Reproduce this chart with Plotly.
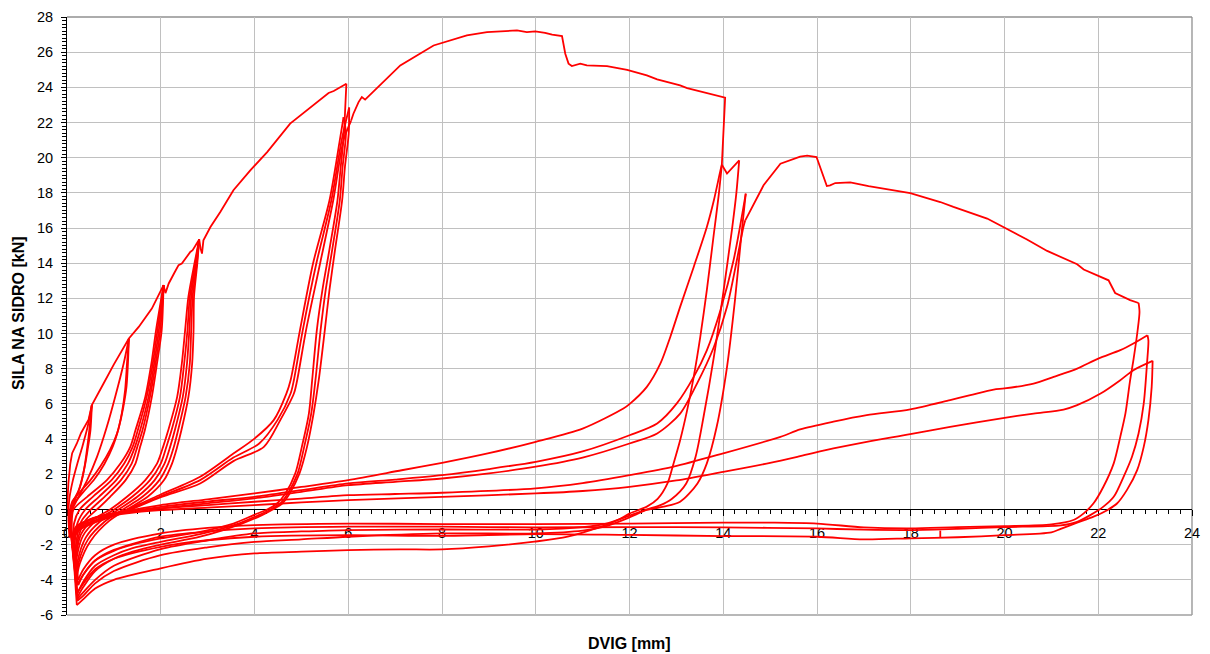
import plotly.graph_objects as go

# ---------------- data (x = DVIG [mm], y = SILA [kN]) -------------
# backbone (envelope) segments
ENV_1 = [(0, 0), (0.03, 1.5), (0.07, 2.6), (0.11, 3.2), (0.21, 3.75), (0.3, 4.35), (0.46, 5.1), (0.53, 5.93),
         (0.78, 7.16), (1.0, 8.25), (1.32, 9.72), (1.53, 10.38), (1.81, 11.42), (2.06, 12.75), (2.1, 12.3),
         (2.15, 12.65), (2.17, 12.85), (2.3, 13.5), (2.38, 13.89), (2.45, 13.98), (2.63, 14.64), (2.68, 14.74),
         (2.82, 15.35), (2.85, 14.83), (2.88, 14.55), (2.91, 15.3), (3.06, 16.06), (3.27, 16.91), (3.55, 18.15),
         (3.91, 19.28), (4.27, 20.32), (4.76, 21.94), (5.19, 22.88), (5.58, 23.68), (5.69, 23.79), (5.96, 24.21)]
ENV_2 = [(6.06, 22.1), (6.11, 22.5), (6.22, 23.16), (6.29, 23.45), (6.36, 23.3), (6.61, 23.93), (7.11, 25.25),
         (7.82, 26.38), (8.53, 26.95), (8.96, 27.14), (9.6, 27.24), (9.81, 27.14), (9.99, 27.18), (10.2, 27.1),
         (10.35, 27.0), (10.56, 26.92), (10.63, 25.91), (10.7, 25.35), (10.77, 25.21), (10.95, 25.35),
         (11.09, 25.25), (11.52, 25.21), (11.95, 25.0), (12.37, 24.68), (12.59, 24.45), (13.08, 24.11),
         (13.23, 23.96), (14.04, 23.41), (13.97, 19.6), (14.08, 19.1), (14.34, 19.85)]
ENV_3 = [(14.47, 16.44), (14.65, 17.39), (14.86, 18.43), (15.22, 19.66), (15.64, 20.06), (15.79, 20.12),
         (15.99, 20.04), (16.21, 18.39), (16.28, 18.43), (16.39, 18.56), (16.71, 18.6), (17.1, 18.39),
         (17.78, 18.11), (17.99, 17.99), (18.63, 17.48), (18.91, 17.2), (19.63, 16.54), (20.12, 15.88),
         (20.48, 15.35), (20.91, 14.7), (21.55, 13.94), (21.69, 13.64), (22.22, 13.03), (22.36, 12.31),
         (22.68, 11.9), (22.86, 11.74)]
GLITCH = [(18.63, -1.2), (18.63, -1.58)]

# cycles around 6 kN
G1_U1 = [(0.53, 5.93), (0.5, 4.5), (0.44, 3.4), (0.39, 2.6), (0.28, 1.29), (0.14, 0.34), (0.06, -0.3), (0.07, -1.0), (0.08, -1.5)]
G1_U2 = [(0.53, 5.93), (0.46, 4.13), (0.36, 2.23), (0.25, 1.1), (0.11, 0.34), (0.04, -0.4), (0.05, -1.2), (0.06, -1.6)]
G1_R1 = [(0.06, -1.6), (0.03, -0.5), (0.05, 0.6), (0.12, 1.6), (0.22, 2.6), (0.33, 3.6), (0.44, 4.7), (0.53, 5.93)]

# cycles around 10 kN
G2_U1 = [(1.32, 9.72), (1.28, 8.31), (1.24, 6.8), (1.17, 5.48), (1.07, 4.34), (0.92, 3.4), (0.71, 2.44), (0.5, 1.67),
         (0.28, 1.0), (0.11, 0.44), (0.06, -0.4), (0.09, -1.4), (0.12, -2.2)]
G2_R1 = [(0.12, -2.2), (0.07, -1.0), (0.1, -0.1), (0.21, 0.53), (0.43, 1.67), (0.64, 2.99), (0.85, 4.7), (1.03, 6.42),
         (1.21, 8.31), (1.32, 9.72)]
G2_U2 = [(1.32, 9.72), (1.3, 8.3), (1.27, 7.0), (1.2, 5.8), (1.1, 4.6), (0.98, 3.6), (0.8, 2.6), (0.58, 1.7),
         (0.35, 1.0), (0.15, 0.3), (0.08, -0.6), (0.11, -1.6), (0.13, -2.5)]

# cycles around 12.7 kN
G3_C1 = [(2.06, 12.75), (1.9, 10.2), (1.8, 8.3), (1.67, 6.4), (1.46, 4.5), (1.35, 3.56), (1.14, 2.61), (0.85, 1.67),
         (0.43, 0.72), (0.14, 0), (0.1, -1.0), (0.12, -2.2), (0.14, -2.7)]
G3_C2 = [(2.06, 12.75), (1.93, 10.2), (1.83, 8.3), (1.7, 6.4), (1.51, 4.5), (1.4, 3.56), (1.22, 2.61), (0.95, 1.67),
         (0.55, 0.72), (0.27, 0), (0.15, -0.8), (0.14, -2.0), (0.15, -3.0)]
G3_C3 = [(2.06, 12.75), (1.96, 10.2), (1.86, 8.3), (1.74, 6.4), (1.56, 4.5), (1.45, 3.56), (1.3, 2.61), (1.05, 1.67),
         (0.68, 0.72), (0.39, 0), (0.22, -0.8), (0.16, -2.2), (0.16, -3.2)]
G3_C4 = [(2.06, 12.75), (1.99, 10.2), (1.89, 8.3), (1.77, 6.4), (1.61, 4.5), (1.5, 3.56), (1.38, 2.61), (1.15, 1.67),
         (0.8, 0.72), (0.51, 0), (0.3, -0.7), (0.2, -1.8), (0.17, -3.0)]
G3_C5 = [(2.06, 12.75), (2.02, 10.2), (1.92, 8.3), (1.81, 6.4), (1.66, 4.5), (1.56, 3.56), (1.46, 2.61), (1.25, 1.67),
         (0.92, 0.72), (0.64, 0), (0.4, -0.6), (0.25, -1.5), (0.18, -2.8)]

# cycles around 15.3 kN
G4_C1 = [(2.82, 15.35), (2.72, 14), (2.59, 12.1), (2.52, 10.2), (2.45, 8.3), (2.35, 6.4), (2.16, 4.5), (2.05, 3.56),
         (1.92, 2.61), (1.67, 1.67), (1.28, 0.72), (0.92, 0), (0.55, -0.6), (0.3, -1.4), (0.2, -2.5), (0.17, -3.6)]
G4_C2 = [(2.82, 15.35), (2.74, 14), (2.62, 12.1), (2.57, 10.2), (2.5, 8.3), (2.41, 6.4), (2.23, 4.5), (2.12, 3.56),
         (2.0, 2.61), (1.77, 1.67), (1.39, 0.72), (1.01, 0), (0.62, -0.65), (0.34, -1.5), (0.21, -2.7), (0.18, -3.9)]
G4_C3 = [(2.82, 15.35), (2.75, 14), (2.65, 12.1), (2.61, 10.2), (2.56, 8.3), (2.47, 6.4), (2.3, 4.5), (2.2, 3.56),
         (2.08, 2.61), (1.87, 1.67), (1.5, 0.72), (1.1, 0), (0.7, -0.7), (0.4, -1.6), (0.23, -2.9), (0.19, -4.1)]
G4_C4 = [(2.82, 15.35), (2.77, 14), (2.68, 12.1), (2.65, 10.2), (2.62, 8.3), (2.53, 6.4), (2.37, 4.5), (2.28, 3.56),
         (2.16, 2.61), (1.97, 1.67), (1.61, 0.72), (1.19, 0), (0.8, -0.7), (0.45, -1.7), (0.25, -3.0), (0.2, -4.2)]
G4_C5 = [(2.82, 15.35), (2.78, 14), (2.71, 12.1), (2.7, 10.2), (2.67, 8.3), (2.59, 6.4), (2.44, 4.5), (2.35, 3.56),
         (2.24, 2.61), (2.07, 1.67), (1.72, 0.72), (1.28, 0), (0.9, -0.65), (0.5, -1.8), (0.27, -3.1), (0.2, -4.0)]

# cycles around 24 kN
G5_U1 = [(5.96, 24.21), (5.93, 22.5), (5.91, 21.37), (5.84, 19.5), (5.77, 17.58), (5.6, 14.8), (5.45, 12.5),
         (5.33, 10.2), (5.23, 7.35), (5.16, 5.45), (5.01, 3.56), (4.87, 2.05), (4.66, 0.91), (4.48, 0.34),
         (4.27, 0.0), (3.98, -0.32), (3.55, -0.8), (2.84, -1.27), (2.0, -1.65), (1.4, -2.0), (1.0, -2.35),
         (0.6, -2.9), (0.35, -3.7), (0.22, -4.3)]
G5_R1 = [(0.22, -4.3), (0.17, -2.8), (0.13, -1.7), (0.25, -1.1), (0.5, -0.75), (0.8, -0.45), (1.28, 0.0), (2.0, 0.85),
         (2.84, 1.86), (3.55, 3.18), (4.0, 4.03), (4.41, 5.08), (4.68, 6.59), (4.77, 7.35), (4.97, 10.2),
         (5.25, 14.0), (5.6, 17.58), (5.82, 21.0), (5.9, 22.3)]
G5_U2 = [(5.9, 22.3), (5.95, 21.37), (5.88, 19.5), (5.82, 17.58), (5.66, 14.8), (5.52, 12.5), (5.41, 10.2),
         (5.3, 7.35), (5.21, 5.45), (5.06, 3.56), (4.92, 2.05), (4.71, 0.91), (4.55, 0.34), (4.34, 0.0),
         (4.09, -0.32), (3.66, -0.8), (2.84, -1.4), (2.0, -1.84), (1.4, -2.2), (1.0, -2.6), (0.6, -3.2),
         (0.35, -4.1), (0.22, -4.8)]
G5_R2 = [(0.22, -4.8), (0.17, -3.0), (0.13, -1.8), (0.25, -1.15), (0.5, -0.8), (0.8, -0.5), (1.28, -0.05),
         (2.0, 0.75), (2.84, 1.67), (3.55, 2.95), (4.1, 3.75), (4.49, 5.08), (4.77, 6.59), (4.84, 7.35),
         (5.03, 10.2), (5.32, 14.0), (5.64, 17.58), (5.86, 21.0), (6.02, 22.85)]
G5_U3 = [(6.02, 22.85), (6.01, 21.37), (5.93, 19.5), (5.87, 17.58), (5.72, 14.8), (5.6, 12.5), (5.5, 10.2),
         (5.37, 7.35), (5.26, 5.45), (5.12, 3.56), (4.96, 2.05), (4.75, 0.91), (4.59, 0.34), (4.39, 0.0),
         (4.16, -0.32), (3.73, -0.8), (2.84, -1.55), (2.0, -2.0), (1.4, -2.4), (1.0, -2.8), (0.6, -3.5),
         (0.35, -4.4), (0.22, -5.0)]
G5_R3 = [(0.22, -5.0), (0.17, -3.1), (0.13, -1.9), (0.25, -1.2), (0.5, -0.85), (0.8, -0.55), (1.28, -0.1),
         (2.0, 0.7), (2.84, 1.48), (3.55, 2.75), (4.2, 3.56), (4.55, 5.08), (4.84, 6.59), (4.91, 7.35),
         (5.1, 10.2), (5.4, 14.0), (5.68, 17.58), (5.9, 21.0), (6.06, 22.1)]

# cycles around 20 kN (x ~ 14 mm)
G6_U1 = [(13.97, 19.6), (13.9, 17.8), (13.8, 15.69), (13.65, 12.47), (13.51, 9.81), (13.37, 7.54), (13.23, 5.65),
         (13.08, 3.94), (12.94, 2.62), (12.81, 1.48), (12.6, 0.6), (12.37, 0.16), (12.01, -0.22), (11.75, -0.6),
         (11.39, -0.98), (10.68, -1.55), (9.97, -1.83), (9.0, -2.1), (8.0, -2.27), (7.11, -2.27), (6.0, -2.31),
         (5.0, -2.4), (4.0, -2.5), (3.0, -2.8), (2.0, -3.35), (1.0, -4.0), (0.6, -4.5), (0.35, -5.1), (0.21, -5.44)]
G6_R1 = [(0.21, -5.44), (0.16, -3.5), (0.12, -2.0), (0.2, -1.2), (0.46, -0.61), (0.82, -0.3), (1.28, -0.08),
         (2.0, 0.25), (3.0, 0.58), (4.0, 0.91), (5.0, 1.28), (6.0, 1.67), (7.14, 2.23), (8.0, 2.65), (9.0, 3.2),
         (10.0, 3.85), (11.0, 4.6), (11.87, 5.74), (12.0, 5.99), (12.37, 6.97), (12.66, 8.3), (12.87, 9.81),
         (13.08, 11.52), (13.37, 13.79), (13.65, 16.06), (13.8, 17.58), (13.94, 19.28), (13.97, 19.6)]
G6_U2 = [(14.34, 19.85), (14.28, 18.0), (14.19, 16.0), (14.01, 12.5), (13.8, 8.68), (13.58, 5.27), (13.41, 3.0),
         (13.21, 1.48), (12.9, 0.6), (12.66, 0.25), (12.37, 0.0), (12.0, -0.35), (11.5, -0.8), (11.0, -1.0),
         (10.0, -1.14), (8.0, -1.14), (6.0, -1.17), (5.0, -1.25), (4.0, -1.36), (3.0, -1.75), (2.0, -2.25),
         (1.0, -3.2), (0.6, -4.0), (0.35, -4.7), (0.22, -5.1)]
G6_R2 = [(0.22, -5.1), (0.16, -3.3), (0.12, -1.9), (0.22, -1.1), (0.5, -0.6), (0.85, -0.33), (1.28, -0.14),
         (2.0, 0.15), (3.0, 0.45), (4.0, 0.72), (5.0, 1.1), (6.0, 1.48), (7.0, 1.7), (8.0, 1.95), (9.0, 2.3),
         (10.0, 2.71), (11.0, 3.3), (12.0, 4.22), (12.59, 4.89), (13.01, 6.03), (13.37, 7.54), (13.65, 9.05),
         (13.94, 11.33), (14.22, 14.17), (14.48, 17.96)]
G6_U3 = [(14.48, 17.96), (14.39, 15.69), (14.25, 11.9), (14.08, 8.1), (13.86, 4.7), (13.65, 2.62), (13.45, 1.48),
         (13.08, 0.44), (12.73, 0.16), (12.37, -0.03), (12.0, -0.45), (11.5, -0.95), (11.0, -1.2), (10.0, -1.36),
         (8.0, -1.36), (6.0, -1.55), (5.0, -1.7), (4.0, -1.84), (3.0, -2.15), (2.0, -2.6), (1.0, -3.5),
         (0.6, -4.2), (0.35, -4.9), (0.22, -5.2)]
G6_R3 = [(0.22, -5.2), (0.16, -3.2), (0.12, -1.8), (0.22, -1.0), (0.5, -0.55), (0.85, -0.3), (1.28, -0.16),
         (2.0, 0.06), (3.0, 0.35), (4.0, 0.63), (5.0, 1.0), (6.0, 1.38), (7.0, 1.57), (8.0, 1.76), (9.0, 2.05),
         (10.0, 2.43), (11.0, 2.95), (12.0, 3.75), (12.59, 4.32), (13.08, 5.45), (13.44, 7.16), (13.8, 9.24),
         (14.08, 11.52), (14.29, 14.17), (14.43, 16.06), (14.47, 16.44)]

# cycles around 10 kN (x ~ 23 mm)
G7_U1 = [(22.86, 11.74), (22.88, 11.23), (22.84, 10.19), (22.75, 8.49), (22.68, 7.35), (22.58, 5.46), (22.47, 4.13),
         (22.33, 2.62), (22.11, 1.29), (21.9, 0.35), (21.69, -0.22), (21.47, -0.6), (21.0, -0.85), (20.0, -0.95),
         (19.0, -1.0), (18.0, -1.08), (17.0, -1.02), (16.0, -0.8), (15.0, -0.75), (14.0, -0.75), (12.0, -0.8),
         (10.0, -0.83), (8.0, -0.83), (6.0, -0.8), (4.0, -0.89), (3.0, -1.05), (2.0, -1.36), (1.0, -2.0),
         (0.6, -2.6), (0.35, -3.4), (0.24, -4.0)]
G7_R1 = [(0.24, -4.0), (0.17, -2.6), (0.12, -1.5), (0.2, -0.95), (0.46, -0.6), (0.82, -0.32), (1.28, -0.12),
         (2.0, 0.06), (3.0, 0.25), (4.0, 0.44), (5.0, 0.62), (6.0, 0.81), (7.0, 0.88), (8.0, 0.95), (10.0, 1.2),
         (11.0, 1.5), (12.0, 1.95), (12.94, 2.43), (14.0, 3.19), (15.22, 4.13), (15.64, 4.55), (16.35, 4.99),
         (17.06, 5.36), (17.99, 5.69), (18.84, 6.22), (19.27, 6.5), (19.77, 6.82), (20.0, 6.88), (20.62, 7.16),
         (21.05, 7.54), (21.55, 8.01), (22.0, 8.58), (22.47, 9.06), (22.75, 9.44), (23.05, 9.91)]
G7_U2 = [(23.05, 9.91), (23.07, 9.6), (23.04, 8.3), (22.97, 6.02), (22.86, 4.32), (22.72, 3.0), (22.54, 1.86),
         (22.33, 0.72), (22.11, 0.16), (21.83, -0.32), (21.55, -0.7), (21.2, -0.9), (20.0, -1.0), (19.0, -1.1),
         (18.0, -1.17), (17.0, -1.15), (16.0, -1.08), (14.0, -1.02), (12.0, -1.0), (10.0, -1.02), (8.0, -0.98),
         (6.0, -0.98), (4.0, -1.08), (3.0, -1.25), (2.0, -1.55), (1.0, -2.3), (0.6, -2.9), (0.35, -3.7), (0.24, -4.3)]
G7_R2 = [(0.24, -4.3), (0.17, -2.8), (0.12, -1.6), (0.22, -1.05), (0.5, -0.7), (0.85, -0.42), (1.28, -0.22),
         (2.0, -0.04), (3.0, 0.1), (4.0, 0.25), (5.0, 0.4), (6.0, 0.53), (8.0, 0.72), (10.0, 0.91), (11.0, 1.05),
         (12.0, 1.29), (13.0, 1.65), (14.0, 2.14), (15.0, 2.65), (15.64, 3.03), (16.35, 3.47), (17.06, 3.85),
         (17.99, 4.28), (18.84, 4.7), (20.0, 5.21), (20.62, 5.45), (21.26, 5.68), (21.55, 5.93), (22.05, 6.59),
         (22.47, 7.35), (22.75, 7.92), (23.16, 8.45)]
G7_U3 = [(23.16, 8.45), (23.14, 6.97), (23.07, 5.08), (22.97, 3.56), (22.83, 2.24), (22.61, 1.1), (22.4, 0.34),
         (22.19, -0.04), (21.9, -0.41), (21.55, -0.75), (21.2, -1.1), (21.0, -1.3), (20.0, -1.46), (19.0, -1.58),
         (18.0, -1.64), (17.0, -1.7), (16.0, -1.55), (14.0, -1.51), (12.0, -1.45), (10.0, -1.4), (8.0, -1.5),
         (6.0, -1.46), (4.0, -1.55), (3.0, -1.75), (2.0, -2.12), (1.0, -2.8), (0.6, -3.4), (0.35, -4.2), (0.25, -4.6)]

X_TICKS = [0, 2, 4, 6, 8, 10, 12, 14, 16, 18, 20, 22, 24]
Y_TICKS = [-6, -4, -2, 0, 2, 4, 6, 8, 10, 12, 14, 16, 18, 20, 22, 24, 26, 28]
X_TITLE = "DVIG [mm]"
Y_TITLE = "SILA NA SIDRO [kN]"

ENVELOPE_PATHS = [ENV_1, ENV_2, ENV_3, GLITCH]
LOOP_PATHS = [G1_U1, G1_U2, G1_R1, G2_U1, G2_R1, G2_U2,
              G3_C1, G3_C2, G3_C3, G3_C4, G3_C5,
              G4_C1, G4_C2, G4_C3, G4_C4, G4_C5,
              G5_U1, G5_R1, G5_U2, G5_R2, G5_U3, G5_R3,
              G6_U1, G6_R1, G6_U2, G6_R2, G6_U3, G6_R3,
              G7_U1, G7_R1, G7_U2, G7_R2, G7_U3]


def join(paths):
    xs, ys = [], []
    for p in paths:
        xs += [pt[0] for pt in p] + [None]
        ys += [pt[1] for pt in p] + [None]
    return xs, ys


RED = "#FF0000"
FONT = "Liberation Sans, Arial, Helvetica, sans-serif"

fig = go.Figure()
ex, ey = join(ENVELOPE_PATHS)
fig.add_trace(go.Scatter(x=ex, y=ey, mode="lines", line=dict(color=RED, width=1.8),
                         hoverinfo="skip", connectgaps=False))
lx, ly = join(LOOP_PATHS)
fig.add_trace(go.Scatter(x=lx, y=ly, mode="lines",
                         line=dict(color=RED, width=1.8, shape="spline", smoothing=0.8),
                         hoverinfo="skip", connectgaps=False))

# the page body has an 8 px default margin, so the figure is 8 px smaller on each axis
fig.update_layout(
    width=1202, height=646,
    margin=dict(l=59, r=18, t=9, b=39, autoexpand=False),
    paper_bgcolor="white", plot_bgcolor="white", showlegend=False,
    font=dict(family=FONT, color="black", size=14.5),
    xaxis=dict(range=[0, 24], tickmode="array", tickvals=X_TICKS, ticktext=[str(v) for v in X_TICKS],
               showgrid=True, gridcolor="#c0c0c0", gridwidth=1.3, zeroline=False,
               showline=True, linecolor="black", linewidth=1,
               ticks="outside", ticklen=6, tickwidth=1, tickcolor="black",
               minor=dict(dtick=0.25, tick0=0, ticks="outside", ticklen=4, tickwidth=1, tickcolor="black", showgrid=False),
               anchor="free", position=6 / 34, layer="below traces",
               ticklabelstandoff=4,
               tickfont=dict(family=FONT, size=14.5, color="black")),
    yaxis=dict(range=[-6, 28], tickmode="array", tickvals=Y_TICKS, ticktext=[str(v) for v in Y_TICKS],
               showgrid=True, gridcolor="#c0c0c0", gridwidth=1.3, zeroline=False,
               showline=True, linecolor="black", linewidth=1,
               ticks="outside", ticklen=5, tickwidth=1, tickcolor="black",
               minor=dict(dtick=0.2, tick0=0, ticks="outside", ticklen=4, tickwidth=1, tickcolor="black", showgrid=False),
               layer="below traces", ticklabelstandoff=5,
               tickfont=dict(family=FONT, size=14.5, color="black")),
    shapes=[
        dict(type="line", xref="paper", yref="paper", x0=0, x1=1, y0=1, y1=1,
             line=dict(color="#909090", width=1.3), layer="below"),
        dict(type="line", xref="paper", yref="paper", x0=1, x1=1, y0=0, y1=1,
             line=dict(color="#909090", width=1.3), layer="below"),
        dict(type="line", xref="paper", yref="paper", x0=0, x1=1, y0=0, y1=0,
             line=dict(color="#a0a0a0", width=1.3), layer="below"),
    ],
    annotations=[
        dict(text="<b>" + X_TITLE + "</b>", xref="paper", yref="paper", x=0.5, y=-0.047,
             xanchor="center", yanchor="middle", showarrow=False,
             font=dict(family=FONT, size=16, color="black")),
        dict(text="<b>" + Y_TITLE + "</b>", xref="paper", yref="paper", x=-0.0436, y=0.505,
             xanchor="center", yanchor="middle", textangle=-90, showarrow=False,
             font=dict(family=FONT, size=16, color="black")),
    ],
)

fig.write_html("out.html")
